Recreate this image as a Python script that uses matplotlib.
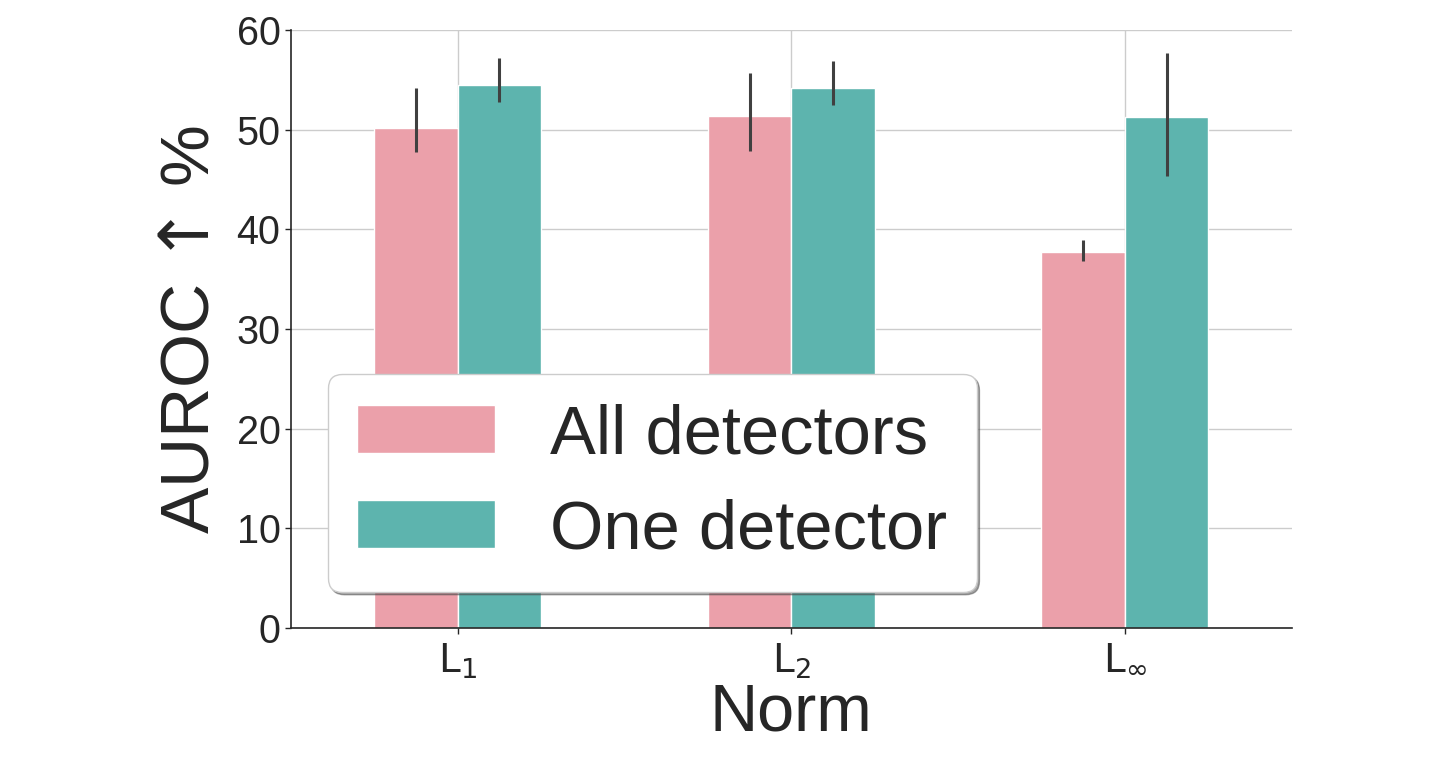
import matplotlib
matplotlib.use('Agg')
import matplotlib.pyplot as plt
import numpy as np

# Data
norms = ['$\\mathrm{L}_1$', '$\\mathrm{L}_2$', '$\\mathrm{L}_\\infty$']
groups = ['All detectors', 'One detector']
means_all = [50.2, 51.4, 37.7]
low_all = [47.8, 47.9, 36.8]
high_all = [54.2, 55.7, 38.9]
means_one = [54.5, 54.2, 51.3]
low_one = [52.8, 52.5, 45.4]
high_one = [57.2, 56.9, 57.7]

colors = ['#EBA0AA', '#5DB4AE']
text_color = '#262626'

plt.rcParams['font.family'] = ['Liberation Sans', 'DejaVu Sans']
plt.rcParams['mathtext.fontset'] = 'dejavusans'

fig, ax = plt.subplots(figsize=(14.4, 7.76), dpi=100)
fig.subplots_adjust(left=0.202, right=0.897, top=0.961, bottom=0.191)

x = np.arange(len(norms))
width = 0.25
series = [(means_all, low_all, high_all), (means_one, low_one, high_one)]
for i, (m, lo, hi) in enumerate(series):
    m = np.array(m)
    yerr = [m - np.array(lo), np.array(hi) - m]
    ax.bar(x + (i - 0.5) * width, m, width, color=colors[i], edgecolor='white',
           linewidth=1, label=groups[i], zorder=2,
           yerr=yerr, ecolor='#404040', error_kw=dict(elinewidth=2.2, capsize=0, zorder=3))

ax.set_xlim(-0.5, 2.5)
ax.set_ylim(0, 60)
ax.set_yticks(range(0, 61, 10))
ax.set_xticks(x)
ax.set_xticklabels(norms, fontsize=28)
ax.tick_params(axis='y', labelsize=28.5, colors=text_color, length=4, width=1)
ax.tick_params(axis='x', colors=text_color, length=4, width=1, pad=6)

ax.grid(True, color='#cccccc', linewidth=1)
ax.set_axisbelow(True)
for s in ['top', 'right']:
    ax.spines[s].set_visible(False)
for s in ['left', 'bottom']:
    ax.spines[s].set_color(text_color)
    ax.spines[s].set_linewidth(1.2)

ax.set_xlabel('Norm', fontsize=48, color=text_color, labelpad=1)
# the arrow comes from DejaVu Sans via mathtext, as in the reference
ax.set_ylabel('AUROC $↑$ %', fontsize=50, color=text_color, labelpad=10)

leg = ax.legend(loc='lower left', bbox_to_anchor=(0.037, 0.060), fontsize=49.5,
                frameon=True, shadow=True, fancybox=True, borderaxespad=0,
                handlelength=2.0, borderpad=0.43, labelspacing=0.45, handletextpad=0.8)
leg.get_frame().set_edgecolor('#cccccc')
for t in leg.get_texts():
    t.set_color(text_color)

fig.savefig('out.png', dpi=100)
